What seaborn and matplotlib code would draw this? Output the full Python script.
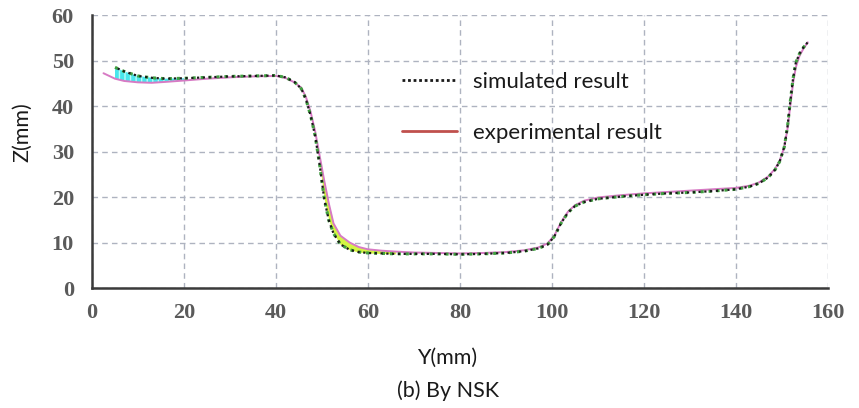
import numpy as np
import pandas as pd
import matplotlib
matplotlib.use("Agg")
import matplotlib.pyplot as plt
import seaborn as sns
from matplotlib.lines import Line2D

# ---- data ----
y_mm = [2.5, 5, 7, 10, 13, 16, 20, 25, 30, 35, 40, 42, 44, 45.5, 46.5, 47.5, 48.5, 49.5,
        50.5, 51.5, 52.5, 54, 56, 58, 60, 63, 66, 70, 75, 80, 85, 90, 94, 97, 99, 100.5,
        102, 103.5, 105, 107, 110, 115, 120, 125, 130, 135, 140, 143, 145, 147, 148.5,
        149.5, 150.5, 151.2, 151.8, 152.4, 153, 153.8, 154.6, 155.6]
z_experimental = [47.2, 46.0, 45.5, 45.2, 45.1, 45.3, 45.6, 46.0, 46.3, 46.5, 46.6, 46.2,
                  45.2, 44.0, 42.0, 38.8, 34.5, 29.0, 23.5, 18.5, 14.2, 11.5, 10.0, 9.0,
                  8.5, 8.2, 8.0, 7.8, 7.7, 7.6, 7.7, 7.9, 8.3, 8.9, 9.8, 11.5, 14.5, 16.8,
                  18.2, 19.2, 19.9, 20.4, 20.8, 21.1, 21.4, 21.7, 22.0, 22.5, 23.2, 24.5,
                  26.2, 28.0, 31.0, 35.0, 40.0, 45.0, 48.5, 51.0, 52.5, 54.0]
z_simulated = [np.nan, 48.5, 47.6, 46.6, 46.2, 46.0, 46.1, 46.3, 46.5, 46.6, 46.7, 46.3,
               45.3, 43.8, 41.5, 38.0, 33.5, 27.0, 19.5, 14.8, 12.0, 9.6, 8.4, 7.9,
               7.7, 7.6, 7.5, 7.5, 7.5, 7.4, 7.5, 7.7, 8.1, 8.7, 9.5, 11.3, 14.3, 16.6,
               18.0, 18.9, 19.6, 20.1, 20.5, 20.8, 21.0, 21.3, 21.7, 22.3, 23.0, 24.3,
               26.0, 27.8, 31.0, 35.5, 41.0, 46.0, 49.5, 51.5, 52.8, 54.0]
x_ticks = [0, 20, 40, 60, 80, 100, 120, 140, 160]
z_ticks = [0, 10, 20, 30, 40, 50, 60]
labels = ["simulated result", "experimental result"]

df = pd.DataFrame({"Y": y_mm, "exp": z_experimental, "sim": z_simulated})

sns.set_theme(style="white")
plt.rcParams["font.family"] = ["Lato", "DejaVu Sans"]

fig = plt.figure(figsize=(8.59, 4.08), dpi=100)
ax = fig.add_axes([92 / 859, 1 - 288 / 408, (828 - 92) / 859, (288 - 15) / 408])

# fills between curves
Y = df["Y"].to_numpy()
e = df["exp"].to_numpy()
s = df["sim"].to_numpy()
m1 = (Y >= 5) & (Y <= 22)
ax.fill_between(Y[m1], e[m1], s[m1], facecolor="#49e6ec", edgecolor="#b8fbfb",
                hatch="|||", linewidth=0, zorder=2)
m2 = (Y >= 49.5) & (Y <= 66)
ax.fill_between(Y[m2], s[m2], e[m2], facecolor="#d4f542", linewidth=0, zorder=2)

sns.lineplot(data=df, x="Y", y="exp", ax=ax, color="#d77ac4", lw=1.4, zorder=3,
             sort=False)
sns.lineplot(data=df, x="Y", y="sim", ax=ax, color="#3f9f3f", lw=2.2, zorder=4,
             sort=False, linestyle=(0, (1, 1.6)))
sns.lineplot(data=df, x="Y", y="sim", ax=ax, color="#1a1a1a", lw=1.6, zorder=5,
             sort=False, linestyle=(1.3, (1, 1.6)))

ax.set_xlim(0, 160)
ax.set_ylim(0, 60)
ax.set_xticks(x_ticks)
ax.set_yticks(z_ticks)
ax.grid(True, color="#aeb3c0", linestyle=(0, (4, 3)), linewidth=1.0)
ax.set_axisbelow(True)
for sp in ["top", "right"]:
    ax.spines[sp].set_visible(False)
for sp in ["left", "bottom"]:
    ax.spines[sp].set_color("#3a3a3a")
    ax.spines[sp].set_linewidth(1.8)
ax.tick_params(axis="both", length=0, labelsize=16, labelcolor="#5a5a5a")
ax.tick_params(axis="x", pad=11)
ax.tick_params(axis="y", pad=13)
for lab in ax.get_xticklabels() + ax.get_yticklabels():
    lab.set_family("Liberation Serif")
    lab.set_fontweight("bold")

ax.set_xlabel("")
ax.set_ylabel("")
fig.text(22 / 859, 1 - 132 / 408, "Z(mm)", rotation=90, ha="center", va="center",
         fontsize=15.5, color="#1a1a1a")
fig.text(447 / 859, 1 - 358 / 408, "Y(mm)", ha="center", va="center",
         fontsize=15.5, color="#1a1a1a")
fig.text(448 / 859, 1 - 391 / 408, "(b) By NSK", ha="center", va="center",
         fontsize=15.5, color="#1a1a1a")

handles = [Line2D([], [], color="#1a1a1a", lw=2.0, linestyle=(0, (1, 1))),
           Line2D([], [], color="#c0504d", lw=2.0)]
leg = ax.legend(handles, labels, loc="upper left",
                bbox_to_anchor=(393 / 859, 1 - 63 / 408), bbox_transform=fig.transFigure,
                frameon=False, fontsize=16, handlelength=2.5, handletextpad=0.7,
                labelspacing=1.4, borderaxespad=0)
for t in leg.get_texts():
    t.set_color("#1a1a1a")

fig.savefig("out.png", dpi=100)
